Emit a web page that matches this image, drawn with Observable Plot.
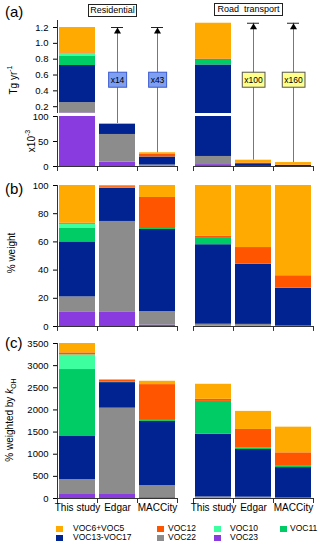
<!DOCTYPE html>
<html><head><meta charset="utf-8">
<script src="https://cdn.jsdelivr.net/npm/d3@7"></script>
<script src="https://cdn.jsdelivr.net/npm/@observablehq/plot@0.6"></script>
<style>
body{margin:0;background:#fff;font-family:"Liberation Sans",Arial,sans-serif;color:#000;}
#wrap{position:relative;width:320px;height:545px;overflow:hidden;}
.rot{position:absolute;transform:translate(-50%,-50%) rotate(-90deg);white-space:nowrap;font-size:10px;line-height:12px;}
.plabel{position:absolute;font-size:15px;line-height:16px;}
.fbox{position:absolute;border:1px solid #222;font-size:9px;text-align:center;line-height:11px;box-sizing:border-box;white-space:pre;background:#fff;}
.leg{position:absolute;font-size:8.5px;line-height:9px;white-space:nowrap;}
.sw{position:absolute;width:7px;height:6px;}
</style></head><body><div id="wrap"></div>
<script>
// ---------- data ----------
const sectors = ["Residential", "Road transport"];
const datasets = ["This study", "Edgar", "MACCity"];
const species = ["VOC23", "VOC22", "VOC13-VOC17", "VOC11", "VOC10", "VOC12", "VOC6+VOC5"];
const speciesColors = ["#8a3be0", "#8c8c8c", "#002391", "#00cc66", "#3dffa0", "#ff5500", "#ffaa00"];
const legendOrder = ["VOC6+VOC5", "VOC12", "VOC10", "VOC11", "VOC13-VOC17", "VOC22", "VOC23"];

// (a) total emissions, Tg yr-1 (This study, Edgar, MACCity)
const totalRes = [1.20, 0.086, 0.0275];
const totalRoad = [1.254, 0.0126, 0.0079];

// (b) % weight per species (order of `species`)
const pctResThis = [10, 11, 39, 9.5, 3, 0.8, 26.7];
const pctResEdgar = [10, 64.5, 23.5, 0.4, 0, 0.8, 0.8];
const pctResMacc = [1, 9.6, 58.2, 0.7, 0, 22, 8.5];
const pctRoadThis = [0.3, 1.3, 56.4, 4.5, 0, 1.5, 36];
const pctRoadEdgar = [0.2, 1.3, 42.5, 0.6, 0, 11.4, 44];
const pctRoadMacc = [0, 0.3, 26.7, 0.6, 0, 8.4, 64];

// (c) % weighted by kOH per species
const kohResThis = [90, 336, 974, 1512, 331, 45, 212];
const kohResEdgar = [90, 1950, 577, 20, 0, 35, 13];
const kohResMacc = [20, 270, 1450, 23, 0, 809, 75];
const kohRoadThis = [10, 25, 1418, 740, 0, 46, 340];
const kohRoadEdgar = [8, 22, 1076, 38, 0, 415, 408];
const kohRoadMacc = [0, 10, 688, 29, 0, 304, 580];

// scaling factors shown on arrows
const multSectors = ["Residential", "Residential", "Road transport", "Road transport"];
const multDatasets = ["Edgar", "MACCity", "Edgar", "MACCity"];
const multLabels = ["x14", "x43", "x100", "x160"];

// ---------- tables ----------
const totals = {"Residential": totalRes, "Road transport": totalRoad};
const pct = {"Residential": [pctResThis, pctResEdgar, pctResMacc], "Road transport": [pctRoadThis, pctRoadEdgar, pctRoadMacc]};
const koh = {"Residential": [kohResThis, kohResEdgar, kohResMacc], "Road transport": [kohRoadThis, kohRoadEdgar, kohRoadMacc]};
const rows = [];
const bars = [];
for (const s of sectors) datasets.forEach((d, j) => {
  bars.push({sector: s, dataset: d});
  species.forEach((sp, k) => rows.push({sector: s, dataset: d, species: sp,
    pct: pct[s][j][k], tg: totals[s][j] * pct[s][j][k] / 100, koh: koh[s][j][k]}));
});
const arrows = multLabels.map((label, i) => ({sector: multSectors[i], dataset: multDatasets[i], label,
  cap: totals[multSectors[i]][0], top: totals[multSectors[i]][datasets.indexOf(multDatasets[i])]}));

// ---------- layout ----------
const FONT = '"Liberation Sans", Arial, sans-serif';
const ML = 57, HALF = 20;
const wrap = document.getElementById("wrap");
const SVGNS = "http://www.w3.org/2000/svg";

function panel({top, height, marginTop, marginBottom, yDomain, marks}) {
  const svg = Plot.plot({
    width: 320, height, marginLeft: ML, marginRight: 7, marginTop, marginBottom,
    style: {fontFamily: FONT, fontSize: "9.5px", background: "none", overflow: "visible", color: "#000"},
    fx: {domain: sectors, paddingInner: 16 / 136, paddingOuter: 0, round: false, axis: null, label: null},
    x: {domain: datasets, paddingInner: 0.1, paddingOuter: 0.05, round: false, axis: null, label: null},
    y: {domain: yDomain, axis: null, label: null},
    color: {domain: species, range: speciesColors},
    marks
  });
  svg.style.position = "absolute";
  svg.style.left = "0px";
  svg.style.top = top + "px";
  wrap.appendChild(svg);
  const ln = document.createElementNS(SVGNS, "line");
  ln.setAttribute("x1", ML + 0.5); ln.setAttribute("x2", ML + 0.5);
  ln.setAttribute("y1", marginTop); ln.setAttribute("y2", height - marginBottom);
  ln.setAttribute("stroke", "#333");
  svg.appendChild(ln);
  return svg;
}
function bracket(len) {
  return [
    Plot.ruleY([0], {stroke: "#333"}),
    Plot.ruleX(bars, {fx: "sector", x: "dataset", y1: 0, y2: -len, dx: -HALF, stroke: "#333"}),
    Plot.ruleX(bars.filter(b => b.dataset === datasets[2]), {fx: "sector", x: "dataset", y1: 0, y2: -len, dx: HALF, stroke: "#333"})
  ];
}

// (a) upper part
const up = panel({top: 0, height: 115, marginTop: 20, marginBottom: 2, yDomain: [0.114, 1.2886], marks: [
  Plot.barY(rows, {fx: "sector", x: "dataset", y: "tg", fill: "species", clip: true}),
  Plot.axisY({ticks: [0.2, 0.4, 0.6, 0.8, 1.0, 1.2], tickFormat: ".1f", tickSize: 4, label: null}),
  Plot.ruleX(arrows, {fx: "sector", x: "dataset", y1: 0, y2: "cap", stroke: "#777"}),
  Plot.tickY(arrows, {fx: "sector", x: "dataset", y: "cap", insetLeft: 12, insetRight: 12, stroke: "#222"}),
  Plot.dot(arrows, {fx: "sector", x: "dataset", y: "cap", symbol: "triangle", r: 2.6, fill: "#000", stroke: "none", dy: 4}),
  Plot.text(arrows, {fx: "sector", x: "dataset", text: "label", frameAnchor: "middle", dy: 13, fontSize: 8.5})
]});
// boxes behind multiplier labels
const labelSector = Object.fromEntries(arrows.map(a => [a.label, a.sector]));
up.querySelectorAll("text").forEach(t => {
  const lab = t.textContent.trim();
  if (!(lab in labelSector)) return;
  const b = t.getBBox();
  const res = labelSector[lab] === sectors[0];
  const r = document.createElementNS(SVGNS, "rect");
  r.setAttribute("x", b.x - 2); r.setAttribute("y", b.y - 2.5);
  r.setAttribute("width", b.width + 4); r.setAttribute("height", b.height + 5);
  if (t.getAttribute("transform")) r.setAttribute("transform", t.getAttribute("transform"));
  r.setAttribute("fill", res ? "#7f9ff0" : "#ffff8c");
  r.setAttribute("stroke", res ? "#3a5ad0" : "#555");
  t.parentNode.insertBefore(r, t);
});

// (a) lower part (x10^-3)
panel({top: 114, height: 62, marginTop: 2, marginBottom: 10, yDomain: [0, 100], marks: [
  Plot.barY(rows, {fx: "sector", x: "dataset", y: d => d.tg * 1000, fill: "species", clip: true}),
  Plot.ruleX(arrows, {fx: "sector", x: "dataset", y1: d => d.top * 1000, y2: 100, stroke: "#777"}),
  ...bracket(10),
  Plot.axisY({ticks: [0, 50, 100], tickSize: 4, label: null})
]});

// (b) % weight
panel({top: 180, height: 154, marginTop: 5, marginBottom: 8, yDomain: [0, 100], marks: [
  Plot.barY(rows, {fx: "sector", x: "dataset", y: "pct", fill: "species"}),
  ...bracket(3.5),
  Plot.axisY({ticks: [0, 20, 40, 60, 80, 100], tickSize: 4, label: null})
]});

// (c) % weighted by kOH
panel({top: 334, height: 180, marginTop: 9, marginBottom: 16, yDomain: [0, 3500], marks: [
  Plot.barY(rows, {fx: "sector", x: "dataset", y: "koh", fill: "species"}),
  ...bracket(113),
  Plot.axisY({ticks: d3.range(0, 3501, 500), tickFormat: "d", tickSize: 4, label: null}),
  Plot.axisX({tickSize: 0, tickPadding: 5, fontSize: 10, label: null})
]});

// ---------- text decorations ----------
function add(cls, html, css) {
  const el = document.createElement("div");
  el.className = cls; el.innerHTML = html;
  Object.assign(el.style, css);
  wrap.appendChild(el);
  return el;
}
add("plabel", "(a)", {left: "5px", top: "4px"});
add("plabel", "(b)", {left: "5px", top: "181px"});
add("plabel", "(c)", {left: "5px", top: "335px"});
add("rot", "Tg yr<sup style='font-size:7px'>-1</sup>", {left: "12px", top: "80px"});
add("rot", "x10<sup style='font-size:7px'>-3</sup>", {left: "30px", top: "141px"});
add("rot", "% weight", {left: "12px", top: "253px"});
add("rot", "% weighted by <i>k</i><sub style='font-size:7px'>OH</sub>", {left: "12px", top: "420px"});
add("fbox", sectors[0], {left: "88px", top: "4px", width: "49px", height: "13px"});
add("fbox", sectors[1].replace(" ", "  "), {left: "214px", top: "3px", width: "69px", height: "13px"});

// legend
const swX = [56, 157, 214, 280], txX = [73, 168, 230, 290], rowY = [529, 538];
legendOrder.forEach((name, i) => {
  const col = i % 4, row = Math.floor(i / 4);
  add("sw", "", {left: swX[col] + "px", top: (rowY[row] - 3) + "px", background: speciesColors[species.indexOf(name)]});
  add("leg", name, {left: txX[col] + "px", top: (rowY[row] - 5) + "px"});
});
</script></body></html>
